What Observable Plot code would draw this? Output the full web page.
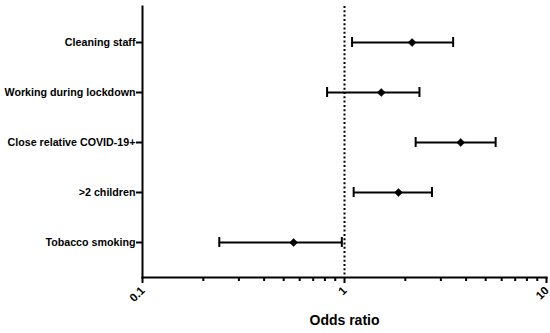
<!DOCTYPE html>
<html>
<head>
<meta charset="utf-8">
<script src="https://cdn.jsdelivr.net/npm/d3@7"></script>
<script src="https://cdn.jsdelivr.net/npm/@observablehq/plot@0.6"></script>
<style>
  html, body { margin: 0; padding: 0; background: #fff; }
  #chart svg { display: block; }
</style>
</head>
<body>
<div id="chart"></div>
<script>
const factors = ["Cleaning staff", "Working during lockdown", "Close relative COVID-19+", ">2 children", "Tobacco smoking"];
const oddsRatio = [2.16, 1.52, 3.76, 1.85, 0.56];
const ciLow = [1.09, 0.82, 2.25, 1.11, 0.24];
const ciHigh = [3.45, 2.35, 5.6, 2.71, 0.97];
const majorTicks = [0.1, 1, 10];
const majorTickLabels = ["0.1", "1", "10"];
const minorTicks = [0.2, 0.3, 0.4, 0.5, 0.6, 0.7, 0.8, 0.9, 2, 3, 4, 5, 6, 7, 8, 9];
const referenceLine = [1];
const xLabel = "Odds ratio";

const data = factors.map((f, i) => ({factor: f, or: oddsRatio[i], lo: ciLow[i], hi: ciHigh[i]}));

const chart = Plot.plot({
  width: 550,
  height: 333,
  marginLeft: 142,
  marginRight: 4,
  marginTop: 6,
  marginBottom: 56,
  style: {fontFamily: "'Liberation Sans', Arial, sans-serif", fontSize: "11px", fontWeight: "bold", color: "#000"},
  x: {type: "log", domain: [0.1, 10]},
  y: {type: "band", domain: factors, paddingInner: 0.802, paddingOuter: 0.584},
  marks: [
    Plot.ruleX(referenceLine, {stroke: "#000", strokeWidth: 2, strokeDasharray: "2,2.3"}),
    Plot.ruleY(data, {y: "factor", x1: "lo", x2: "hi", stroke: "#000", strokeWidth: 2}),
    Plot.tickX(data, {y: "factor", x: "lo", stroke: "#000", strokeWidth: 2}),
    Plot.tickX(data, {y: "factor", x: "hi", stroke: "#000", strokeWidth: 2}),
    Plot.dot(data, {y: "factor", x: "or", symbol: "diamond2", r: 3.6, fill: "#000", stroke: "#000", strokeWidth: 0.5}),
    Plot.axisY({tickSize: 6, tickPadding: 1, strokeWidth: 2, label: null, fontSize: 10.7, fontWeight: "bold", fill: "#000"}),
    Plot.axisX({ticks: minorTicks, tickSize: 4, strokeWidth: 2, tickFormat: () => "", label: null}),
    Plot.axisX({ticks: majorTicks, tickSize: 6, strokeWidth: 2, tickFormat: () => "", label: null}),
    Plot.axisX({ticks: majorTicks, tickSize: 0, tickPadding: 11, dx: 0.5, tickRotate: -45,
      tickFormat: d => majorTickLabels[majorTicks.indexOf(d)], label: null, fontSize: 11.5, fontWeight: "bold", fill: "#000"}),
    Plot.frame({anchor: "left", stroke: "#000", strokeWidth: 2}),
    Plot.frame({anchor: "bottom", stroke: "#000", strokeWidth: 2}),
    Plot.text([xLabel], {frameAnchor: "bottom", dy: 47, fontSize: 14, fontWeight: "bold", fill: "#000"})
  ]
});
document.getElementById("chart").appendChild(chart);
</script>
</body>
</html>
